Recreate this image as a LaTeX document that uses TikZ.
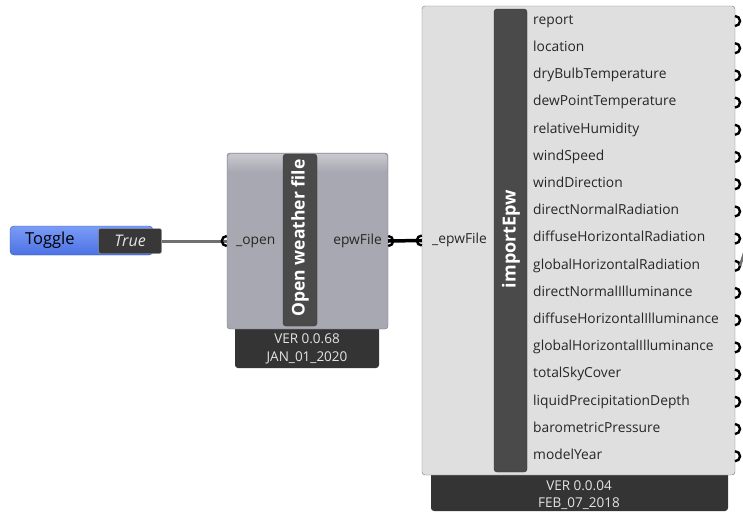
\documentclass[tikz,border=0pt]{standalone}
\usepackage{fontspec}
\setmainfont{Open Sans}
\usepackage{tikz}
\usetikzlibrary{positioning,calc}
\definecolor{tglblue}{RGB}{122,156,245}
\definecolor{tgldeep}{RGB}{76,114,228}
\definecolor{tglline}{RGB}{52,82,180}
\definecolor{owbody}{RGB}{168,168,178}
\definecolor{owtop}{RGB}{200,200,206}
\definecolor{epbody}{RGB}{223,223,223}
\definecolor{bodyline}{RGB}{120,120,124}
\definecolor{barfill}{RGB}{74,74,74}
\definecolor{footfill}{RGB}{52,52,52}
\definecolor{foottext}{RGB}{228,228,228}
\definecolor{wiregray}{RGB}{112,112,112}
\tikzstyle{port}=[black,line width=2.4pt]
\tikzstyle{wire}=[line width=3pt]
\tikzstyle{lbl}=[inner sep=0pt,text height=9.5pt,text depth=3pt,text=black!85,font=\fontsize{13.8}{15}\selectfont]
\tikzstyle{footlbl}=[inner sep=0pt,text=foottext,font=\fontsize{13.5}{15}\selectfont]
\tikzstyle{barlbl}=[rotate=90,inner sep=0pt,text=white,font=\bfseries\fontsize{17.5}{19}\selectfont]
\tikzset{compbody/.style={draw=bodyline,rounded corners=3pt,inner sep=0pt}}

\begin{document}
\begin{tikzpicture}[x=1pt,y=-1pt]
  \useasboundingbox (0,0) rectangle (743,514);

  % toggle
  \shade[top color=tglblue,bottom color=tgldeep,draw=tglline,rounded corners=4pt]
    (10,226) rectangle (153,255);
  \node[anchor=west,inner sep=0pt,font=\fontsize{16.5}{18}\selectfont] (tgl) at (25,240.5) {Toggle};
  \node[draw=black!35,fill=black!78,rounded corners=2pt,minimum width=63pt,minimum height=25pt,
        text=black!10,font=\itshape\fontsize{16}{18}\selectfont] (val) at (130,241) {True};

  % open weather file
  \fill[footfill,rounded corners=3pt] (235,320) rectangle (379,368);
  \node[compbody,fill=owbody,minimum width=161pt,minimum height=176pt] (owf) at (307.5,241) {};
  \shade[top color=owtop,bottom color=owbody,rounded corners=3pt] (228,154) rectangle (387,172);
  \draw[draw=black!80,fill=barfill,rounded corners=3pt] (283,154) rectangle (317,326);
  \node[barlbl] (owname) at (300,238) {Open weather file};
  \node[lbl,anchor=west] (openlbl) at (236,241) {\_open};
  \node[lbl,anchor=east] (owflbl) at (382,241) {epwFile};
  \node[footlbl] (owver) at (307,339) {VER 0.0.68};
  \node[footlbl] (owdate) at (307,358) {JAN\_01\_2020};
  \coordinate (open) at (owf.west);
  \coordinate (owout) at (owf.east);

  % importEpw
  \fill[footfill,rounded corners=3pt] (431,465) rectangle (728,511);
  \node[compbody,fill=epbody,minimum width=313pt,minimum height=469pt] (epw) at (578.5,240.5) {};
  \draw[draw=black!80,fill=barfill,rounded corners=3pt] (494,9) rectangle (527,472);
  \node[barlbl,font=\bfseries\fontsize{18}{20}\selectfont] (epname) at (511,239) {importEpw};
  \node[lbl,anchor=west] (epin) at (432,240.5) {\_epwFile};
  \node[footlbl] (epver) at (579,486) {VER 0.0.04};
  \node[footlbl] (epdate) at (579,504) {FEB\_07\_2018};
  \coordinate (epwin) at (epw.west);

  \foreach \lbl [count=\i, evaluate={\yy=21+27.2*(\i-1)}] in {report,location,dryBulbTemperature,
      dewPointTemperature,relativeHumidity,windSpeed,windDirection,directNormalRadiation,
      diffuseHorizontalRadiation,globalHorizontalRadiation,directNormalIlluminance,
      diffuseHorizontalIlluminance,globalHorizontalIlluminance,totalSkyCover,
      liquidPrecipitationDepth,barometricPressure,modelYear}{
    \node[lbl,anchor=west] (out\i) at (533,\yy) {\lbl};
    \coordinate (p\i) at (735,\yy);
    \draw[port] ([yshift=5pt]p\i) arc (90:-90:5pt);
  }
  \coordinate (offedge) at (745,250);

  % wires and ports
  \draw[wire,wiregray] (val.east) -- (open);
  \draw[wire,black,line width=3.5pt] (owout) -- (epwin);
  \draw[wire,wiregray,line width=2.5pt] ([xshift=5pt]p10) -- (offedge);
  \draw[port] ([yshift=5pt]open) arc (90:270:5pt);
  \draw[port] ([yshift=5pt]owout) arc (90:-90:5pt);
  \draw[port] ([yshift=5pt]epwin) arc (90:270:5pt);

\end{tikzpicture}
\end{document}
